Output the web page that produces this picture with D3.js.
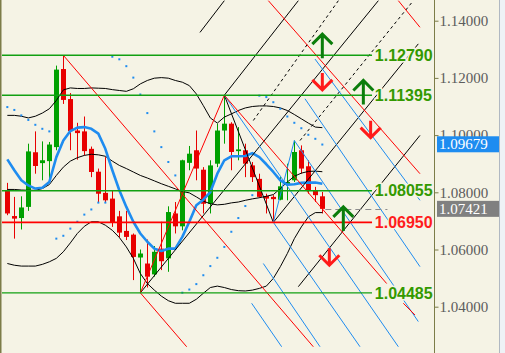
<!DOCTYPE html>
<html>
<head>
<meta charset="utf-8">
<script src="https://cdnjs.cloudflare.com/ajax/libs/d3/7.8.5/d3.min.js"></script>
<style>
  html, body { margin: 0; padding: 0; background: #f5f3e5; overflow: hidden; }
  #chart { width: 505px; height: 353px; }
</style>
</head>
<body>
<div id="chart"></div>
<script>
// OHLC per bar (bar 0 = first visible candle)
const opens  = [1.0805,1.0717,1.0710,1.0749,1.0940,1.0902,1.0909,1.0958,1.1231,1.1126,1.1016,1.1013,1.0952,1.0872,1.0798,1.0778,1.0716,1.0665,1.0652,1.0572,1.0551,1.0513,1.0603,1.0569,1.0726,1.0681,1.0903,1.0947,1.0879,1.0760,1.0900,1.1016,1.1040,1.0944,1.0947,1.0894,1.0847,1.0787,1.0784,1.0774,1.0828,1.0842,1.0947,1.0891,1.0805,1.0786];
const highs  = [1.0833,1.0784,1.0786,1.0970,1.1013,1.0978,1.0976,1.1243,1.1279,1.1147,1.1043,1.1065,1.0960,1.0883,1.0923,1.0807,1.0735,1.0735,1.0656,1.0600,1.0635,1.0612,1.0697,1.0751,1.0766,1.0914,1.0962,1.1016,1.0888,1.0912,1.1040,1.11395,1.1045,1.1028,1.0970,1.0906,1.0865,1.0795,1.0790,1.0853,1.0900,1.0981,1.0964,1.0912,1.0819,1.0801];
const lows   = [1.0720,1.0638,1.0670,1.0735,1.0865,1.0842,1.0842,1.0947,1.1109,1.0947,1.0914,1.0929,1.0853,1.0766,1.0766,1.0679,1.0642,1.0633,1.0493,1.04485,1.0467,1.0505,1.0528,1.0522,1.0656,1.0667,1.0877,1.0842,1.0726,1.0726,1.0888,1.0970,1.0877,1.0912,1.0853,1.0836,1.0781,1.0726,1.0695,1.0772,1.0772,1.0836,1.0865,1.0795,1.0766,1.0726];
const closes = [1.0726,1.0708,1.0747,1.0943,1.0892,1.0912,1.0967,1.1229,1.1123,1.1014,1.1007,1.0944,1.0871,1.0795,1.0772,1.0693,1.0659,1.0644,1.0574,1.0586,1.0505,1.0592,1.0559,1.0731,1.0681,1.0912,1.0935,1.0883,1.0760,1.0894,1.1016,1.1040,1.0941,1.0950,1.0900,1.0853,1.0784,1.0778,1.0776,1.0821,1.0836,1.0941,1.0883,1.0807,1.0790,1.07421];

// indicators
const maBlue  = [1.0915,1.0877,1.0842,1.0824,1.0813,1.0816,1.0836,1.0923,1.0981,1.1014,1.1026,1.1028,1.1022,1.1005,1.0952,1.0877,1.0807,1.0749,1.0697,1.0656,1.0627,1.0603,1.0595,1.0603,1.0603,1.0644,1.0697,1.0755,1.0774,1.0801,1.0865,1.0912,1.0926,1.0926,1.0927,1.0937,1.0923,1.0898,1.0871,1.0842,1.0827,1.0828,1.0833,1.0834,1.0834,1.0830];
const bbUpper = [1.1069,1.1069,1.1066,1.1060,1.1066,1.1077,1.1092,1.1121,1.1158,1.1165,1.1163,1.1163,1.1165,1.1164,1.1163,1.1159,1.1156,1.1153,1.1162,1.1179,1.1191,1.1199,1.1201,1.1199,1.1191,1.1185,1.1173,1.1144,1.1103,1.1060,1.1042,1.1063,1.1074,1.1086,1.1095,1.1100,1.1102,1.1102,1.1100,1.1095,1.1086,1.1072,1.1057,1.1042,1.1028,1.1026];
const bbMiddle = [1.0810,1.0810,1.0808,1.0807,1.0807,1.0813,1.0827,1.0859,1.0888,1.0909,1.0921,1.0929,1.0933,1.0931,1.0926,1.0909,1.0894,1.0883,1.0871,1.0859,1.0850,1.0840,1.0830,1.0821,1.0812,1.0803,1.0798,1.0784,1.0769,1.0760,1.0756,1.0758,1.0763,1.0766,1.0772,1.0777,1.0781,1.0786,1.0792,1.0813,1.0836,1.0856,1.0867,1.0873,1.0874,1.0872];
const bbLower = [1.0551,1.0545,1.0542,1.0542,1.0542,1.0548,1.0557,1.0569,1.0592,1.0623,1.0656,1.0681,1.0697,1.0697,1.0685,1.0667,1.0642,1.0609,1.0569,1.0516,1.0481,1.0458,1.0437,1.0421,1.0412,1.0412,1.0412,1.0426,1.0447,1.0467,1.0472,1.0467,1.0460,1.0456,1.0455,1.0458,1.0464,1.0472,1.0499,1.0540,1.0586,1.0638,1.0679,1.0714,1.0729,1.0729];
const sarDots = [1.1098,1.1088,1.1069,1.1053,1.1036,1.1022,1.1013,1.0638,1.0648,1.0673,1.0697,1.0722,1.0740,1.0764,1.0764,1.1274,1.1265,1.1241,1.1201,1.1142,1.1077,1.1013,1.0958,1.0906,1.0859,1.0449,1.0460,1.0479,1.0510,1.0542,1.0571,1.0609,1.0662,1.0710,1.0752,1.0790,1.1138,1.1133,1.1115,1.1092,1.1065,1.1043,1.1024,1.1001,1.0987,1.0967];

// horizontal levels
const levels = [1.12790, 1.11395, 1.08055, 1.06950, 1.04485];
const levelKinds = ["green", "green", "green", "red", "green"];

// trend lines: [bar1, price1, bar2, price2]
const redLines = [
  [8, 1.1279, 43.71, 1.0260],
  [19, 1.04485, 25.62, 1.0260],
  [19, 1.04485, 31, 1.11395],
  [31, 1.11395, 54.19, 1.0481],
  [56.57, 1.0412, 58.24, 1.0371],
  [37.29, 1.1470, 58.95, 1.0865],
  [55.86, 1.1470, 58.95, 1.1377]
];
const blueLines = [
  [31, 1.11395, 55.86, 1.0260],
  [41, 1.0981, 58.71, 1.0348],
  [38, 1.0695, 50.38, 1.0260],
  [36.57, 1.0551, 44.67, 1.0260],
  [34.9, 1.0412, 39.19, 1.0260],
  [42.52, 1.1127, 58.95, 1.0540],
  [43.95, 1.1266, 58.95, 1.0772],
  [38, 1.0695, 41, 1.0981]
];
const blackLines = [
  [27.52, 1.1359, 31, 1.1470],
  [31, 1.11395, 41.57, 1.1470],
  [19, 1.04485, 53, 1.1470],
  [38, 1.0695, 58.71, 1.1319],
  [41.57, 1.0470, 58.95, 1.0999],
  [31, 1.11395, 38, 1.0695]
];
const dashedLines = [
  [35.14, 1.1051, 47.29, 1.1470],
  [41.81, 1.0981, 58, 1.1470]
];

// signal arrows: [bar, tip price]
const upArrows = [[45, 1.1353], [50.86, 1.1191], [48, 1.0749]];
const downArrows = [[45, 1.1158], [51.9, 1.0991], [46, 1.0545]];

const axisTicks = [1.04, 1.06, 1.08, 1.10, 1.12, 1.14];
const bidPrice = 1.09679;
const lastPrice = 1.07421;

const width = 505, height = 353, axisX = 434;
const bg = "#f5f3e5";

const svg = d3.select("#chart").append("svg")
    .attr("width", width)
    .attr("height", height)
    .style("display", "block");

svg.append("rect").attr("width", width).attr("height", height).attr("fill", bg);

svg.append("defs").append("clipPath").attr("id", "plot-clip")
    .append("rect").attr("x", 2).attr("y", 0).attr("width", axisX - 2).attr("height", height);

const xScale = d3.scaleLinear().domain([0, 45]).range([7.33, 322.33]);
const yScale = d3.scaleLinear().domain([1.04, 1.14]).range([306.7, 20.7]);

const plot = svg.append("g").attr("clip-path", "url(#plot-clip)");

// candles
const candles = opens.map((o, i) => ({ i, o, h: highs[i], l: lows[i], c: closes[i] }));
const candleColor = d => d.c >= d.o ? "#00a000" : "#e80000";
const cx = d => Math.round(xScale(d.i));

plot.selectAll(".wick")
    .data(candles)
    .enter()
    .append("line")
    .attr("class", "wick")
    .attr("x1", d => cx(d) + 0.5)
    .attr("x2", d => cx(d) + 0.5)
    .attr("y1", d => yScale(d.h))
    .attr("y2", d => yScale(d.l))
    .attr("stroke", candleColor)
    .attr("stroke-width", 1);

plot.selectAll(".body")
    .data(candles)
    .enter()
    .append("rect")
    .attr("class", "body")
    .attr("x", d => cx(d) - 2)
    .attr("width", 5)
    .attr("y", d => yScale(Math.max(d.o, d.c)))
    .attr("height", d => Math.max(1.5, Math.abs(yScale(d.o) - yScale(d.c))))
    .attr("fill", candleColor);

// bollinger + moving average
const seriesLine = d3.line()
    .x((d, i) => xScale(i))
    .y(d => yScale(d));

[bbUpper, bbMiddle, bbLower].forEach(s => {
    plot.append("path")
        .datum(s)
        .attr("fill", "none")
        .attr("stroke", "#000")
        .attr("stroke-width", 1)
        .attr("d", seriesLine);
});

plot.append("path")
    .datum(maBlue)
    .attr("fill", "none")
    .attr("stroke", "#1e8cf0")
    .attr("stroke-width", 2.6)
    .attr("stroke-linejoin", "round")
    .attr("d", seriesLine);

// parabolic SAR dots
plot.selectAll(".sar")
    .data(sarDots)
    .enter()
    .append("rect")
    .attr("class", "sar")
    .attr("x", (d, i) => xScale(i) - 1)
    .attr("y", d => yScale(d) - 1)
    .attr("width", 2)
    .attr("height", 2)
    .attr("fill", "#1e8cf0");

// trend lines
function drawSegments(list, color, dash) {
    plot.selectAll(null)
        .data(list)
        .enter()
        .append("line")
        .attr("x1", d => xScale(d[0]))
        .attr("y1", d => yScale(d[1]))
        .attr("x2", d => xScale(d[2]))
        .attr("y2", d => yScale(d[3]))
        .attr("stroke", color)
        .attr("stroke-width", 1)
        .attr("stroke-dasharray", dash);
}
drawSegments(blackLines, "#000", null);
drawSegments(dashedLines, "#000", "3,3");
drawSegments(blueLines, "#1e8cf0", null);
drawSegments(redLines, "#ff0000", null);

// level lines
const levelEnd = 52.1;
plot.selectAll(".level")
    .data(levels)
    .enter()
    .append("line")
    .attr("class", "level")
    .attr("x1", 0)
    .attr("x2", xScale(levelEnd))
    .attr("y1", d => yScale(d))
    .attr("y2", d => yScale(d))
    .attr("stroke", (d, i) => levelKinds[i] === "red" ? "#ff0000" : "#12a012")
    .attr("stroke-width", (d, i) => levelKinds[i] === "red" ? 1.7 : 1.4);

// last price dashed line
plot.append("line")
    .attr("x1", xScale(45) + 3)
    .attr("x2", xScale(54.3))
    .attr("y1", Math.round(yScale(lastPrice)) + 0.5)
    .attr("y2", Math.round(yScale(lastPrice)) + 0.5)
    .attr("stroke", "#8c8c8c")
    .attr("stroke-dasharray", "6,4");

// arrows
const arrowW = 10;
plot.selectAll(".up-arrow")
    .data(upArrows)
    .enter()
    .append("path")
    .attr("class", "up-arrow")
    .attr("d", d => {
        const x = xScale(d[0]), y = yScale(d[1]);
        return `M${x},${y + 24}L${x},${y}M${x - arrowW},${y + arrowW}L${x},${y}L${x + arrowW},${y + arrowW}`;
    })
    .attr("fill", "none")
    .attr("stroke", "#0b7d0b")
    .attr("stroke-width", 3);

plot.selectAll(".down-arrow")
    .data(downArrows)
    .enter()
    .append("path")
    .attr("class", "down-arrow")
    .attr("d", d => {
        const x = xScale(d[0]), y = yScale(d[1]);
        return `M${x},${y - 17}L${x},${y}M${x - arrowW},${y - arrowW}L${x},${y}L${x + arrowW},${y - arrowW}`;
    })
    .attr("fill", "none")
    .attr("stroke", "#ff1a1a")
    .attr("stroke-width", 3);

// level labels
svg.selectAll(".level-label")
    .data(levels)
    .enter()
    .append("text")
    .attr("class", "level-label")
    .attr("x", xScale(52.5))
    .attr("y", d => yScale(d))
    .attr("dy", "0.36em")
    .attr("fill", (d, i) => levelKinds[i] === "red" ? "#ff1c1c" : "#339900")
    .attr("stroke", bg)
    .attr("stroke-width", 3)
    .style("paint-order", "stroke")
    .style("font-family", "'Liberation Sans', Arial, sans-serif")
    .style("font-size", "16px")
    .style("font-weight", "bold")
    .text(d => d3.format(".5f")(d));

// price axis
svg.append("line")
    .attr("x1", axisX + 0.5).attr("x2", axisX + 0.5)
    .attr("y1", 0).attr("y2", height)
    .attr("stroke", "#7c7c48");

svg.append("line")
    .attr("x1", 0.5).attr("x2", 0.5)
    .attr("y1", 0).attr("y2", height)
    .attr("stroke", "#7c7c48")
    .attr("stroke-width", 2);

const axis = svg.append("g")
    .attr("transform", `translate(${axisX + 0.5},0)`)
    .call(d3.axisRight(yScale)
        .tickValues(axisTicks)
        .tickSize(4)
        .tickPadding(1)
        .tickFormat(d3.format(".5f")));
axis.select(".domain").remove();
axis.selectAll("line").attr("stroke", "#7c7c48");
axis.selectAll("text")
    .attr("fill", "#5c5c5c")
    .style("font-family", "'Liberation Serif', 'Times New Roman', serif")
    .style("font-size", "15px");

// price tags
const tags = [
    { price: bidPrice, fill: "#1e8cf0" },
    { price: lastPrice, fill: "#808080" }
];
const tagG = svg.selectAll(".tag")
    .data(tags)
    .enter()
    .append("g")
    .attr("class", "tag");
tagG.append("rect")
    .attr("x", axisX + 3)
    .attr("y", d => yScale(d.price) - 8)
    .attr("width", 67)
    .attr("height", 16)
    .attr("fill", d => d.fill);
tagG.append("text")
    .attr("x", axisX + 5)
    .attr("y", d => yScale(d.price))
    .attr("dy", "0.34em")
    .attr("fill", "#fff")
    .style("font-family", "'Liberation Serif', 'Times New Roman', serif")
    .style("font-size", "15px")
    .text(d => d3.format(".5f")(d.price));

// window edge on the right
svg.append("rect")
    .attr("x", 500).attr("y", 0)
    .attr("width", 5).attr("height", height)
    .attr("fill", "#eef2f6");
svg.append("line")
    .attr("x1", 499.5).attr("x2", 499.5)
    .attr("y1", 0).attr("y2", height)
    .attr("stroke", "#b0b8c2");
</script>
</body>
</html>
